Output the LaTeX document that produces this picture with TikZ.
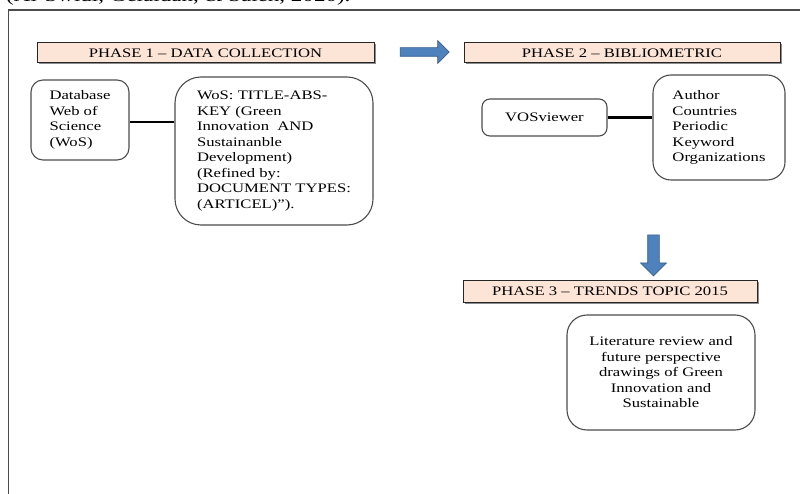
\documentclass[tikz,border=0pt]{standalone}
\usepackage{fontspec}
\setmainfont{Liberation Serif}[FakeStretch=1.28]
\usetikzlibrary{shapes.arrows,shadows}

\definecolor{peach}{HTML}{FCE4D6}
\definecolor{arrowblue}{HTML}{4F81BD}
\definecolor{arrowedge}{HTML}{385D8A}

\tikzstyle{frame} = [draw=black!70, line width=1.3pt]
\tikzstyle{phase} = [rectangle, draw=black!85, line width=1pt, fill=peach,
  minimum height=20pt, inner sep=0pt, text centered,
  drop shadow={shadow xshift=1.5pt, shadow yshift=-1.5pt, fill=black!45, opacity=1}]
\tikzstyle{card} = [rectangle, draw=black!70, line width=1.1pt, align=left, inner sep=0pt]
\tikzstyle{link} = [line width=2.6pt]
\tikzstyle{blockarrow} = [single arrow, fill=arrowblue, draw=arrowedge, line width=0.6pt]

\begin{document}
\begin{tikzpicture}[x=1pt, y=-1pt, font=\fontsize{13}{15.5}\selectfont]
  \clip (0,0) rectangle (800,494);
  \draw[frame] (8.5,10) rectangle (820,520);
  \node[anchor=base west, inner sep=0pt, font=\fontsize{18}{20}\selectfont] (cite) at (6,1.5)
    {(Al-Swidi, Gelaidan, \& Saleh, 2020).};

  \node[phase, minimum width=337pt] (phaseone) at (205.5,53) {PHASE 1 -- DATA COLLECTION};
  \node[phase, minimum width=316pt] (phasetwo) at (622,53) {PHASE 2 -- BIBLIOMETRIC};
  \node[phase, minimum width=294pt, minimum height=22pt] (phasethree) at (610,291)
    {PHASE 3 -- TRENDS TOPIC 2015};

  \node[blockarrow, inner sep=4pt, minimum height=49pt, minimum width=16pt] (nextright)
    at (422.5,52) {};
  \node[blockarrow, shape border rotate=270, inner sep=5.5pt, minimum height=41pt,
    minimum width=23pt] (nextdown) at (653.5,252.5) {};

  \node[card, rounded corners=12pt, minimum width=98pt, minimum height=80pt] (database)
    at (80,120) {Database\\Web of\\Science\\(WoS)};
  \node[card, rounded corners=26pt, minimum width=198pt, minimum height=148pt] (query)
    at (274,151) {WoS: TITLE-ABS-\\KEY (Green\\Innovation~~AND\\Sustainanble\\Development)\\(Refined by:\\DOCUMENT TYPES:\\(ARTICEL)'').};
  \node[card, rounded corners=8pt, minimum width=125pt, minimum height=37pt] (vosviewer)
    at (544.5,117.5) {VOSviewer};
  \node[card, rounded corners=18pt, minimum width=132pt, minimum height=105pt] (analysis)
    at (719,127.5) {Author\\Countries\\Periodic\\Keyword\\Organizations};
  \node[card, align=center, rounded corners=20pt, minimum width=188pt, minimum height=115pt]
    (review) at (661,372.5)
    {Literature review and\\future perspective\\drawings of Green\\Innovation and\\Sustainable};

  \draw[link] (database.east |- 0,122) -- (query.west |- 0,122);
  \draw[link] (vosviewer.east) -- (analysis.west |- vosviewer.east);
\end{tikzpicture}
\end{document}
